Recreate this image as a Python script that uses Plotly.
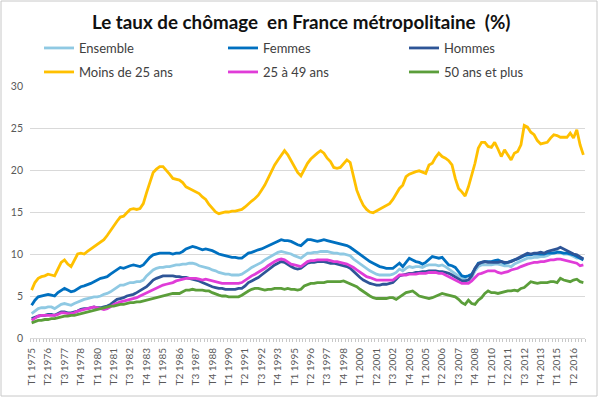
import plotly.graph_objects as go

# ---- data (quarterly, T1 1975 -> T1 2017) ----
first_year = 1975
n_quarters = 169
quarters = [f"T{q} {y}" for y in range(first_year, 2018) for q in range(1, 5)][:n_quarters]

ensemble = [2.9, 3.2, 3.5, 3.6, 3.6, 3.7, 3.7, 3.5, 3.8, 4.0, 4.1, 4.0, 3.9, 4.1, 4.3, 4.5, 4.6, 4.7, 4.8, 4.9,
            4.9, 5.0, 5.2, 5.3, 5.5, 5.8, 6.1, 6.3, 6.3, 6.5, 6.6, 6.6, 6.7, 6.7, 6.9, 7.4, 7.8, 8.1, 8.3, 8.4,
            8.4, 8.5, 8.5, 8.6, 8.7, 8.7, 8.8, 8.8, 8.9, 8.9, 8.8, 8.6, 8.5, 8.4, 8.3, 8.1, 8.0, 7.8, 7.7, 7.6,
            7.6, 7.5, 7.5, 7.5, 7.6, 7.8, 8.1, 8.4, 8.6, 8.8, 9.0, 9.3, 9.5, 9.7, 10.0, 10.2, 10.3, 10.2, 10.1, 10.0,
            9.8, 9.6, 9.5, 9.8, 10.1, 10.1, 10.2, 10.2, 10.3, 10.3, 10.3, 10.2, 10.1, 10.1, 10.0, 10.0, 9.9, 9.8, 9.4, 9.1,
            8.8, 8.5, 8.2, 8.0, 7.8, 7.6, 7.5, 7.5, 7.5, 7.5, 7.6, 7.8, 8.2, 8.0, 8.3, 8.5, 8.4, 8.5, 8.5, 8.4,
            8.6, 8.7, 8.7, 8.7, 8.6, 8.7, 8.5, 8.2, 8.0, 7.7, 7.4, 7.1, 7.0, 6.9, 7.2, 8.0, 8.5, 8.7, 8.7, 8.7,
            8.7, 8.8, 8.8, 8.7, 8.6, 8.6, 8.5, 8.8, 9.0, 9.1, 9.3, 9.5, 9.5, 9.6, 9.6, 9.7, 9.7, 9.8, 10.0, 10.2,
            10.3, 10.2, 10.0, 10.0, 9.9, 9.7, 9.5, 9.5, 9.4]

femmes = [3.9, 4.5, 4.9, 5.0, 5.1, 5.2, 5.1, 5.0, 5.4, 5.7, 5.9, 5.7, 5.5, 5.6, 5.9, 6.1, 6.2, 6.4, 6.5, 6.7,
          6.9, 7.1, 7.2, 7.3, 7.6, 7.9, 8.2, 8.4, 8.3, 8.5, 8.6, 8.7, 8.6, 8.5, 8.7, 9.2, 9.6, 9.9, 10.0, 10.1,
          10.1, 10.1, 10.1, 10.0, 10.1, 10.1, 10.3, 10.6, 10.8, 10.9, 10.8, 10.6, 10.5, 10.6, 10.5, 10.4, 10.2, 10.0, 9.9, 9.8,
          9.7, 9.6, 9.6, 9.5, 9.5, 9.8, 10.1, 10.2, 10.4, 10.5, 10.6, 10.8, 11.0, 11.2, 11.4, 11.6, 11.7, 11.6, 11.6, 11.5,
          11.3, 11.1, 11.0, 11.4, 11.7, 11.7, 11.6, 11.5, 11.6, 11.7, 11.6, 11.5, 11.4, 11.3, 11.2, 11.1, 11.0, 10.8, 10.5, 10.2,
          9.9, 9.6, 9.4, 9.1, 8.9, 8.7, 8.5, 8.4, 8.3, 8.3, 8.3, 8.6, 8.9, 8.5, 9.0, 9.5, 9.3, 9.1, 9.0, 8.8,
          9.0, 9.4, 9.7, 9.6, 9.5, 9.6, 9.2, 8.7, 8.6, 8.4, 7.9, 7.4, 7.3, 7.4, 7.6, 8.2, 8.9, 9.0, 9.1, 9.1,
          9.1, 9.2, 9.3, 9.1, 8.9, 9.0, 9.2, 9.3, 9.4, 9.6, 9.8, 9.9, 9.9, 10.0, 10.0, 10.0, 10.0, 10.1, 10.1, 10.1,
          10.2, 10.2, 10.1, 10.1, 10.0, 9.9, 9.7, 9.5, 9.3]

hommes = [2.3, 2.5, 2.6, 2.7, 2.7, 2.8, 2.8, 2.7, 2.9, 3.1, 3.1, 3.0, 3.0, 3.1, 3.2, 3.4, 3.5, 3.5, 3.6, 3.7,
          3.6, 3.6, 3.7, 3.8, 4.0, 4.3, 4.6, 4.7, 4.8, 5.0, 5.1, 5.2, 5.4, 5.6, 5.8, 6.1, 6.5, 6.9, 7.1, 7.3,
          7.4, 7.4, 7.4, 7.4, 7.3, 7.3, 7.2, 7.2, 7.1, 7.0, 6.9, 6.8, 6.6, 6.4, 6.3, 6.1, 6.0, 5.9, 5.9, 5.8,
          5.8, 5.8, 5.8, 5.9, 5.9, 6.2, 6.6, 6.8, 7.0, 7.2, 7.5, 7.8, 8.1, 8.5, 8.7, 8.9, 9.1, 9.0, 8.7, 8.5,
          8.3, 8.2, 8.3, 8.6, 8.9, 9.0, 9.0, 9.1, 9.1, 9.1, 9.0, 8.9, 8.9, 8.8, 8.7, 8.6, 8.5, 8.3, 7.9, 7.5,
          7.2, 6.9, 6.7, 6.5, 6.4, 6.3, 6.3, 6.4, 6.4, 6.5, 6.6, 7.0, 7.4, 7.5, 7.6, 7.7, 7.7, 7.8, 7.8, 7.9,
          7.9, 8.0, 8.0, 8.0, 7.9, 7.9, 7.8, 7.7, 7.5, 7.3, 7.1, 6.8, 6.8, 6.9, 7.4, 8.3, 8.8, 9.0, 9.1, 9.0,
          9.0, 9.0, 9.0, 9.1, 9.0, 9.0, 9.1, 9.3, 9.5, 9.7, 9.9, 10.1, 10.0, 10.1, 10.1, 10.2, 10.1, 10.3, 10.4, 10.5,
          10.6, 10.8, 10.6, 10.4, 10.2, 10.0, 9.9, 9.7, 9.4]

moins_25 = [5.7, 6.6, 7.1, 7.3, 7.4, 7.6, 7.5, 7.4, 8.2, 9.0, 9.3, 8.8, 8.5, 9.3, 10.0, 10.1, 10.0, 10.3, 10.6, 10.9,
            11.1, 11.4, 11.7, 12.2, 12.8, 13.3, 13.9, 14.4, 14.5, 14.9, 15.3, 15.4, 15.3, 15.4, 16.0, 17.3, 18.6, 19.7, 20.1, 20.4,
            20.4, 20.0, 19.5, 19.0, 18.9, 18.8, 18.5, 18.0, 17.8, 17.6, 17.4, 17.2, 16.8, 16.5, 15.9, 15.4, 15.0, 14.8, 14.9, 15.0,
            15.0, 15.1, 15.1, 15.2, 15.3, 15.6, 16.0, 16.3, 16.6, 17.0, 17.6, 18.2, 19.0, 19.9, 20.6, 21.2, 21.8, 22.3, 21.8, 21.1,
            20.5, 19.7, 19.3, 20.0, 20.8, 21.3, 21.7, 22.0, 22.3, 22.0, 21.4, 21.0, 20.3, 20.2, 20.3, 20.8, 21.2, 20.9, 19.4, 17.6,
            16.6, 15.8, 15.3, 15.0, 14.9, 15.1, 15.4, 15.6, 15.8, 16.0, 16.5, 17.2, 17.8, 18.2, 19.2, 19.5, 19.7, 19.8, 19.9, 19.7,
            19.6, 20.6, 20.8, 21.5, 22.0, 21.6, 21.4, 21.1, 20.6, 19.0, 17.8, 17.4, 16.9, 18.0, 19.4, 20.8, 22.6, 23.3, 23.3, 22.8,
            22.7, 23.3, 22.5, 21.6, 22.4, 21.8, 21.2, 22.0, 22.2, 23.0, 25.3, 25.1, 24.5, 24.2, 23.5, 23.1, 23.2, 23.3, 23.8, 24.2,
            24.1, 23.9, 23.9, 23.9, 24.4, 23.8, 24.8, 23.0, 21.8]

de_25_49 = [2.1, 2.4, 2.6, 2.7, 2.7, 2.7, 2.7, 2.7, 2.8, 3.0, 3.0, 2.9, 2.9, 3.0, 3.2, 3.3, 3.4, 3.5, 3.6, 3.7,
            3.6, 3.5, 3.4, 3.5, 3.7, 4.0, 4.2, 4.3, 4.4, 4.5, 4.6, 4.7, 4.8, 5.0, 5.2, 5.4, 5.6, 5.7, 5.9, 6.1,
            6.3, 6.4, 6.5, 6.6, 6.8, 6.9, 7.0, 7.1, 7.1, 7.1, 7.1, 7.0, 6.9, 7.0, 6.9, 6.8, 6.7, 6.6, 6.5, 6.5,
            6.5, 6.5, 6.5, 6.5, 6.6, 6.9, 7.2, 7.4, 7.6, 7.8, 8.0, 8.3, 8.6, 8.9, 9.1, 9.3, 9.4, 9.3, 9.0, 8.8,
            8.7, 8.6, 8.5, 8.8, 9.1, 9.2, 9.2, 9.3, 9.3, 9.3, 9.3, 9.2, 9.1, 9.1, 9.0, 8.9, 8.8, 8.6, 8.4, 8.1,
            7.8, 7.5, 7.3, 7.2, 7.0, 6.9, 6.9, 6.9, 6.9, 6.9, 6.9, 7.2, 7.5, 7.5, 7.5, 7.6, 7.6, 7.6, 7.7, 7.7,
            7.7, 7.8, 7.8, 7.8, 7.7, 7.7, 7.5, 7.3, 7.1, 6.9, 6.7, 6.5, 6.5, 6.5, 6.8, 7.2, 7.6, 7.7, 7.9, 8.0,
            8.0, 8.0, 7.8, 7.7, 7.8, 7.9, 8.1, 8.2, 8.3, 8.5, 8.7, 8.8, 8.9, 9.0, 9.0, 9.1, 9.1, 9.2, 9.3, 9.3,
            9.4, 9.4, 9.3, 9.2, 9.1, 9.0, 8.9, 8.6, 8.7]

plus_50 = [1.8, 2.0, 2.1, 2.1, 2.2, 2.2, 2.3, 2.3, 2.4, 2.5, 2.6, 2.6, 2.7, 2.7, 2.8, 2.9, 3.0, 3.1, 3.2, 3.3,
           3.4, 3.5, 3.6, 3.7, 3.8, 3.8, 3.9, 4.0, 4.0, 4.1, 4.2, 4.2, 4.3, 4.3, 4.4, 4.5, 4.6, 4.7, 4.8, 4.9,
           5.0, 5.1, 5.2, 5.3, 5.3, 5.3, 5.5, 5.7, 5.7, 5.8, 5.7, 5.7, 5.7, 5.6, 5.6, 5.4, 5.2, 5.1, 5.0, 5.0,
           4.9, 4.9, 4.9, 4.9, 5.1, 5.4, 5.6, 5.8, 5.9, 5.9, 5.8, 5.7, 5.8, 5.8, 5.9, 5.9, 5.9, 5.8, 5.9, 5.8,
           5.8, 5.7, 5.8, 6.2, 6.4, 6.5, 6.5, 6.6, 6.6, 6.6, 6.7, 6.7, 6.7, 6.7, 6.7, 6.8, 6.6, 6.5, 6.3, 6.1,
           5.8, 5.5, 5.3, 5.0, 4.8, 4.7, 4.7, 4.7, 4.7, 4.8, 4.8, 4.6, 4.9, 5.1, 5.4, 5.5, 5.6, 5.3, 5.0, 4.9,
           4.8, 4.7, 4.8, 5.0, 5.2, 5.3, 5.2, 5.1, 5.0, 4.9, 4.6, 4.2, 4.0, 4.5, 4.1, 4.0, 4.5, 4.8, 5.3, 5.6,
           5.4, 5.4, 5.3, 5.4, 5.5, 5.6, 5.6, 5.7, 5.6, 5.9, 6.0, 6.3, 6.7, 6.6, 6.5, 6.6, 6.6, 6.6, 6.7, 6.7,
           6.6, 7.1, 6.9, 6.8, 6.7, 6.9, 7.0, 6.7, 6.6]

series_names = ["Ensemble", "Femmes", "Hommes", "Moins de 25 ans", "25 à 49 ans", "50 ans et plus"]
series_values = [ensemble, femmes, hommes, moins_25, de_25_49, plus_50]
series_colors = ["#8FC9E3", "#0070C0", "#2E5597", "#FFC000", "#E03CD8", "#5B9E3A"]

x_index = list(range(len(quarters)))
tick_step = 5
tick_vals = x_index[::tick_step]
tick_text = quarters[::tick_step]

FONT = "Lato, Calibri, Carlito, sans-serif"

W, H = 600, 398
ml, mr, mt, mb = 30, 15, 86, 60
pw, ph = W - ml - mr, H - mt - mb


def px_x(p):
    return (p - ml) / pw


def px_y(p):
    return 1 + (mt - p) / ph


# legend entry placement (text left edge / row centre, in pixels)
legend_text_x = [88, 272, 453, 88, 272, 453]
legend_row_y = [48, 48, 48, 72, 72, 72]
legend_ids = ["legend"] + [f"legend{i}" for i in range(2, 7)]

fig = go.Figure()
for k in range(len(series_names)):
    fig.add_trace(go.Scatter(
        x=x_index, y=series_values[k], name=series_names[k], mode="lines",
        line=dict(color=series_colors[k], width=2.8),
        text=quarters, hovertemplate="%{text}: %{y}<extra>" + series_names[k] + "</extra>",
        legend=legend_ids[k],
    ))

legend_layout = {}
for k, lid in enumerate(legend_ids):
    legend_layout[lid] = dict(
        x=px_x(legend_text_x[k] - 49), y=px_y(legend_row_y[k]),
        xanchor="left", yanchor="middle", orientation="v",
        bgcolor="rgba(0,0,0,0)", itemwidth=30,
        font=dict(family=FONT, size=13, color="#404040"),
    )

fig.update_layout(
    width=W, height=H,
    margin=dict(l=ml, r=mr, t=mt, b=mb, autoexpand=False),
    paper_bgcolor="white", plot_bgcolor="white",
    title=dict(text="<b>Le taux de chômage  en France métropolitaine  (%)</b>",
               x=0.502, xref="container", xanchor="center",
               y=1 - 22 / H, yref="container", yanchor="middle",
               font=dict(family=FONT, size=18.8, color="#111111")),
    showlegend=True,
    shapes=[dict(type="rect", xref="paper", yref="paper",
                 x0=px_x(1), x1=px_x(597), y0=px_y(396), y1=px_y(1),
                 line=dict(color="#C8C8C8", width=1), fillcolor="rgba(0,0,0,0)", layer="below")],
    **legend_layout,
)

fig.update_xaxes(
    range=[-0.5, len(quarters) - 0.5], automargin=False,
    tickmode="array", tickvals=tick_vals, ticktext=tick_text,
    tickangle=-90, ticks="", showgrid=False, zeroline=False,
    showline=True, linecolor="#D9D9D9", linewidth=1, ticklabelstandoff=5,
    tickfont=dict(family=FONT, size=10, color="#595959"),
    minor=dict(tickmode="linear", tick0=-0.5, dtick=1, ticks="outside",
               ticklen=3, tickcolor="#C8C8C8", showgrid=False),
)
fig.update_yaxes(
    range=[0, 30], dtick=5, tick0=0, automargin=False,
    showgrid=True, gridcolor="#D9D9D9", gridwidth=1, zeroline=False,
    showline=False, ticks="", ticklabelstandoff=6,
    tickfont=dict(family=FONT, size=10.5, color="#595959"),
)

# remove the browser's default 8px page margin so the figure sits at the window origin
fig.write_html("out.html", config={"displayModeBar": False},
               post_script="document.body.style.margin='0';")
